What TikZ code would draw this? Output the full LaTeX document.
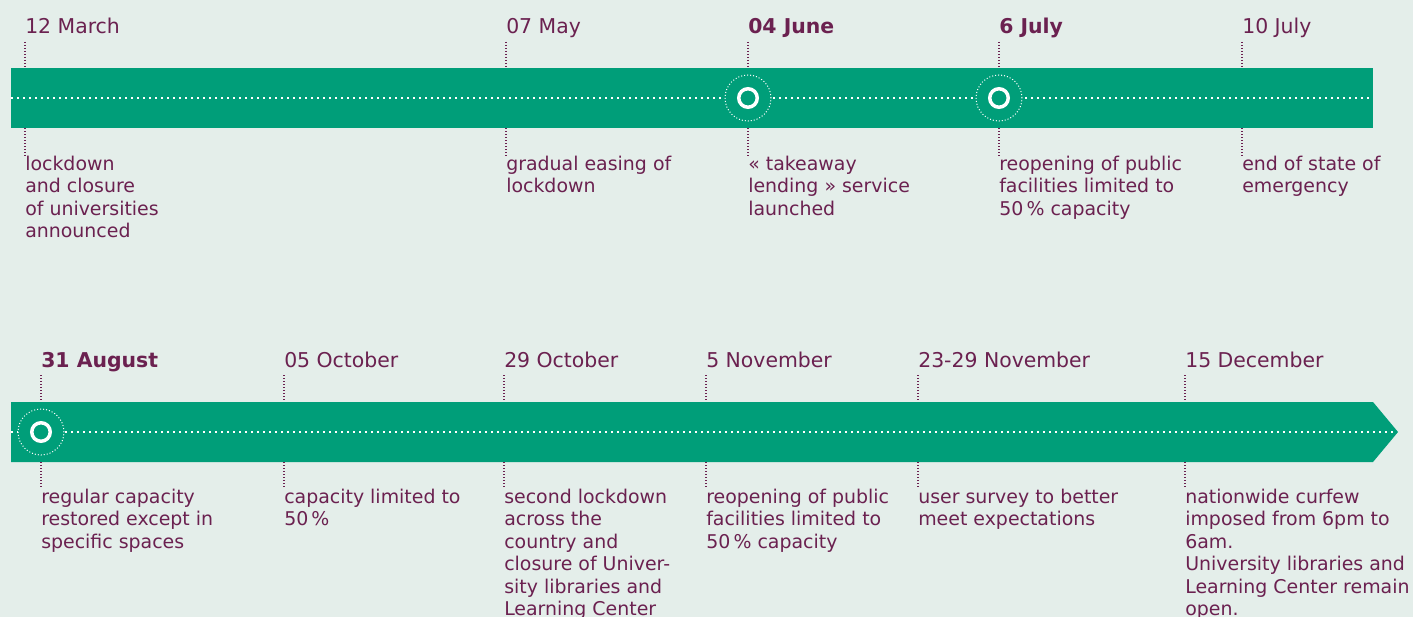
\documentclass[tikz,border=0pt]{standalone}
\usepackage{fontspec}
\setmainfont{DejaVu Sans}
\usetikzlibrary{calc}

\definecolor{bgcol}{HTML}{E4EEEA}
\definecolor{barcol}{HTML}{009E79}
\definecolor{plum}{HTML}{6B2150}

\tikzset{
  datelabel/.style={anchor=base west, inner sep=0pt, text=plum, font=\fontsize{15.3}{18}\selectfont},
  desclabel/.style={anchor=north west, inner sep=0pt, align=left, text=plum},
  tick/.style={plum, line width=0.9pt, dash pattern=on 0.75pt off 1.5pt},
  midline/.style={white, line width=1.5pt, dash pattern=on 1.5pt off 3pt},
  halo/.style={circle, fill=barcol, draw=white, line width=0.75pt,
    dash pattern=on 0.75pt off 1.5pt, minimum size=34.5pt, inner sep=0pt},
  ring/.style={circle, draw=white, line width=2.6pt, minimum size=13.9pt, inner sep=0pt},
}

\begin{document}
\begin{tikzpicture}[x=0.75pt, y=-0.75pt, every node/.style={font=\fontsize{14.2}{16.9}\selectfont}]
  \fill[bgcol] (0,0) rectangle (1413,617);
  \useasboundingbox (0,0) rectangle (1413,617);

  % the two bands
  \fill[barcol] (11,68) rectangle (1373,128);
  \fill[barcol] (11,402) -- (1373,402) -- (1398,432) -- (1373,462) -- (11,462) -- cycle;
  \coordinate (bar1n) at (0,68);
  \coordinate (bar1s) at (0,128);
  \coordinate (bar2n) at (0,402);
  \coordinate (bar2s) at (0,462);
  \draw[midline] (11,98) -- (1373,98);
  \draw[midline] (11,432) -- (1397,432);

  % highlighted dates
  \node[halo] (h1) at (748,98) {};
  \node[ring] (r1) at (h1) {};
  \node[halo] (h2) at (999,98) {};
  \node[ring] (r2) at (h2) {};
  \node[halo] (h3) at (41,432) {};
  \node[ring] (r3) at (h3) {};

  % first row
  \foreach \x/\when/\what [count=\i] in {
      25/{12 March}/{lockdown\\and closure\\of universities\\announced},
      506/{07 May}/{gradual easing of\\lockdown},
      748/{\textbf{04 June}}/{« takeaway\\lending » service\\launched},
      999/{\textbf{6 July}}/{reopening of public\\facilities limited to\\50\,\% capacity},
      1242/{10 July}/{end of state of\\emergency}} {
    \node[datelabel] (a\i) at (\x,34) {\when};
    \node[desclabel] (b\i) at (\x,155.5) {\what};
    \draw[tick] ([yshift=-6pt]a\i.base west) -- (a\i.base west |- bar1n);
    \draw[tick] (b\i.north west |- bar1s) -- (b\i.north west);
  }

  % second row
  \foreach \x/\when/\what [count=\i] in {
      41/{\textbf{31 August}}/{regular capacity\\restored except in\\specific spaces},
      284/{05 October}/{capacity limited to\\50\,\%},
      504/{29 October}/{second lockdown\\across the\\country and\\closure of Univer-\\sity libraries and\\Learning Center},
      706/{5 November}/{reopening of public\\facilities limited to\\50\,\% capacity},
      918/{23-29 November}/{user survey to better\\meet expectations},
      1185/{15 December}/{nationwide curfew\\imposed from 6pm to\\6am.\\University libraries and\\Learning Center remain\\open.}} {
    \node[datelabel] (c\i) at (\x,367) {\when};
    \node[desclabel] (d\i) at (\x,488.5) {\what};
    \draw[tick] ([yshift=-6pt]c\i.base west) -- (c\i.base west |- bar2n);
    \draw[tick] (d\i.north west |- bar2s) -- (d\i.north west);
  }
\end{tikzpicture}
\end{document}
